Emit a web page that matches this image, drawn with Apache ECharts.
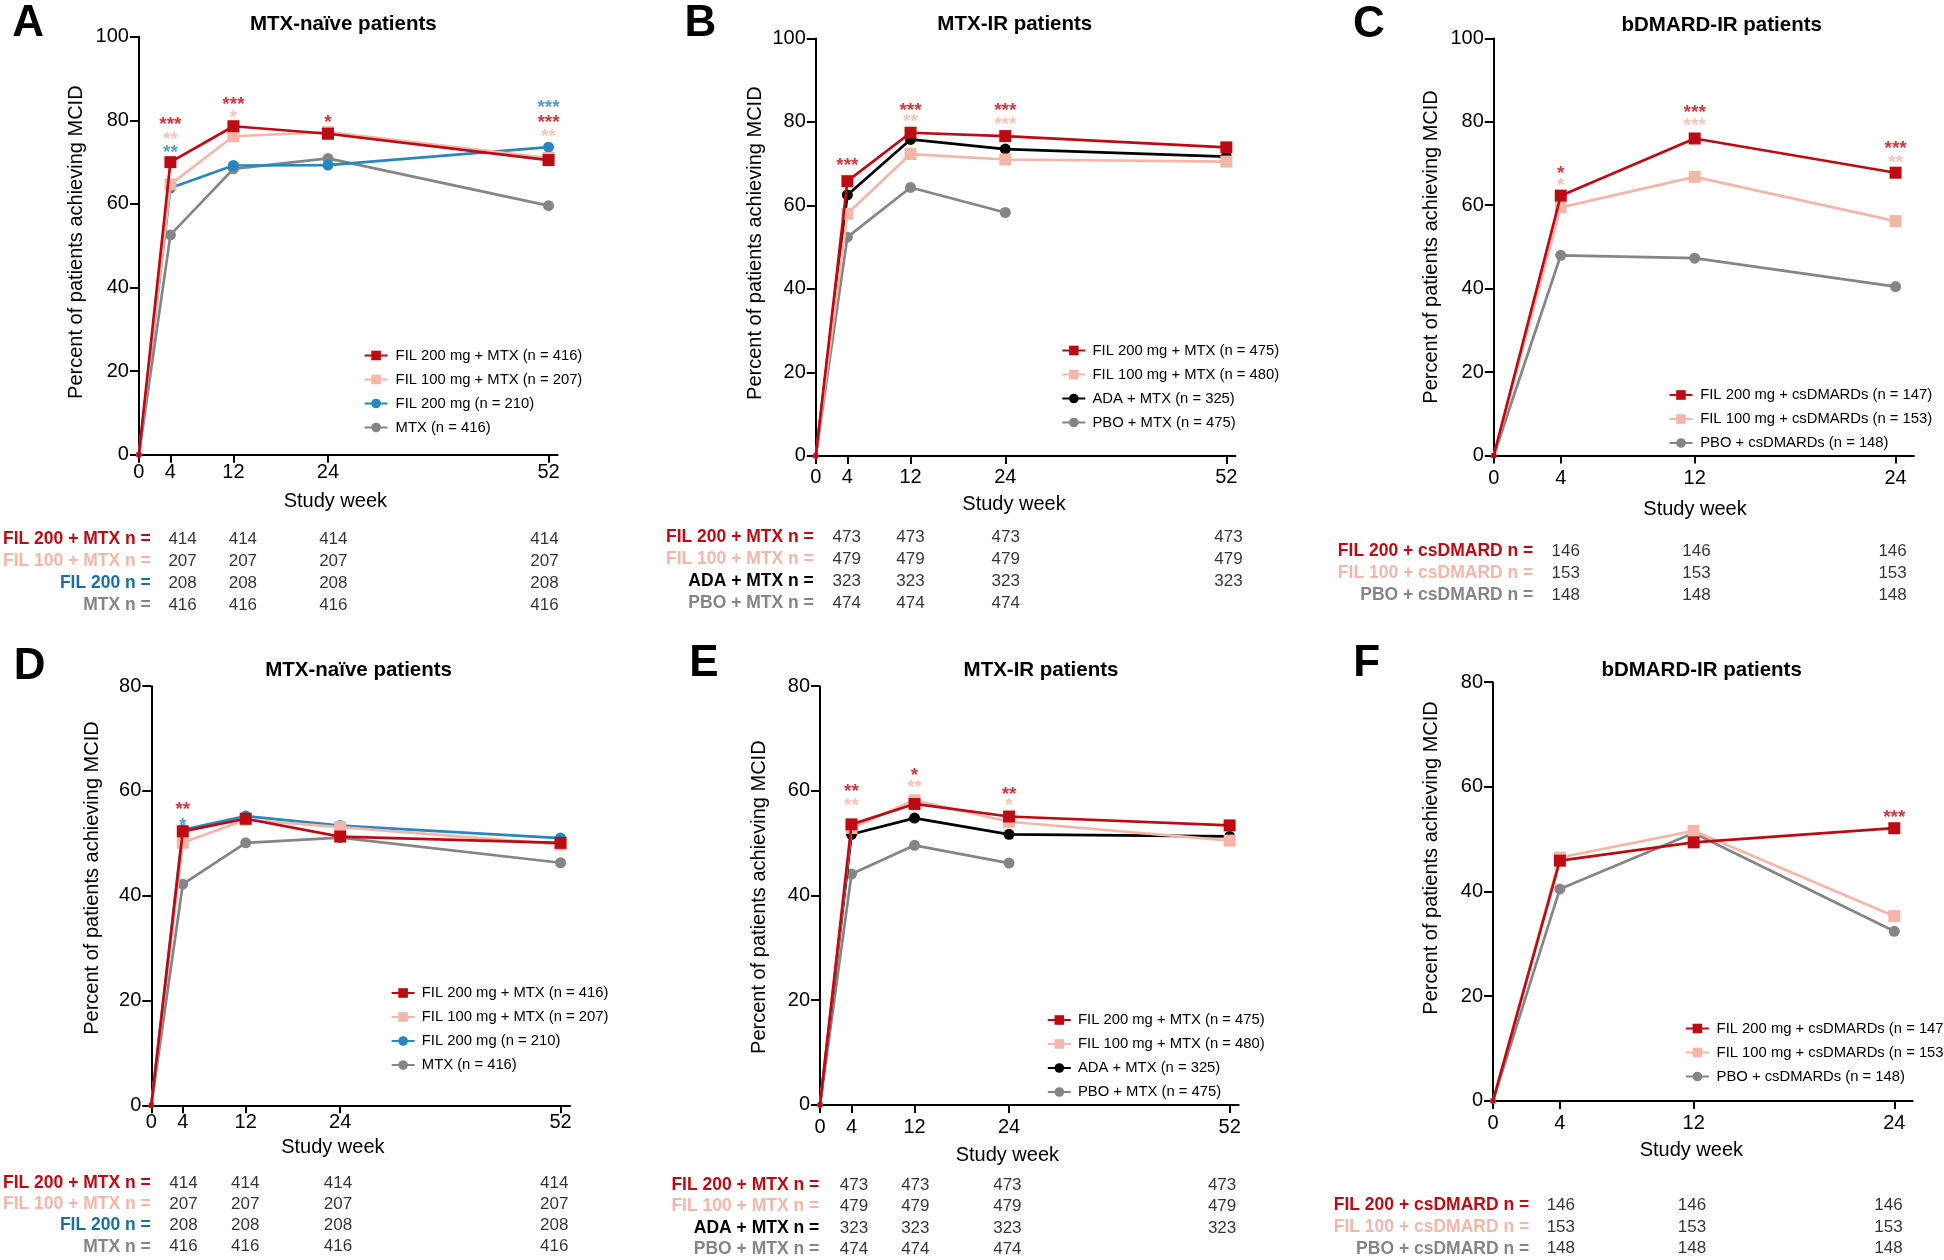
<!DOCTYPE html>
<html><head><meta charset="utf-8">
<script src="https://cdn.jsdelivr.net/npm/echarts@6/dist/echarts.min.js"></script>
<style>html,body{margin:0;padding:0;background:#fff}#c{width:1944px;height:1260px}</style>
</head><body><div id="c"></div>
<script>
// ================= DATA =================
const weeksLong = [0, 4, 12, 24, 52];
const weeksShort = [0, 4, 12, 24];
const nWeeksLong = [4, 12, 24, 52];
const nWeeksShort = [4, 12, 24];
const xTicksLong = [0, 4, 12, 24, 52];
const xTicksShort = [0, 4, 12, 24];

const titles = ['MTX-naïve patients', 'MTX-IR patients', 'bDMARD-IR patients', 'MTX-naïve patients', 'MTX-IR patients', 'bDMARD-IR patients'];
const letters = ['A', 'B', 'C', 'D', 'E', 'F'];
const yAxisTitle = 'Percent of patients achieving MCID';
const xAxisTitle = 'Study week';

// legend names
const namesNaive = ['FIL 200 mg + MTX (n = 416)', 'FIL 100 mg + MTX (n = 207)', 'FIL 200 mg (n = 210)', 'MTX (n = 416)'];
const namesIR = ['FIL 200 mg + MTX (n = 475)', 'FIL 100 mg + MTX (n = 480)', 'ADA + MTX (n = 325)', 'PBO + MTX (n = 475)'];
const namesB = ['FIL 200 mg + csDMARDs (n = 147)', 'FIL 100 mg + csDMARDs (n = 153)', 'PBO + csDMARDs (n = 148)'];

// Panel A (percent achieving MCID)
const A_fil200mtx = [0, 70.0, 78.6, 76.8, 70.5];
const A_fil100mtx = [0, 64.7, 76.2, 77.2, 71.0];
const A_fil200 = [0, 63.8, 69.2, 69.3, 73.6];
const A_mtx = [0, 52.6, 68.4, 70.9, 59.6];
// Panel B
const B_fil200mtx = [0, 65.8, 77.4, 76.6, 73.9];
const B_fil100mtx = [0, 58.0, 72.3, 71.0, 70.5];
const B_ada = [0, 62.5, 75.8, 73.5, 71.7];
const B_pbo = [0, 52.4, 64.3, 58.3];
// Panel C
const C_fil200 = [0, 62.3, 76.0, 67.8];
const C_fil100 = [0, 59.5, 66.8, 56.2];
const C_pbo = [0, 48.0, 47.3, 40.5];
// Panel D
const D_fil200mtx = [0, 52.3, 54.7, 51.3, 50.1];
const D_fil100mtx = [0, 50.1, 54.5, 53.1, 49.8];
const D_fil200 = [0, 52.6, 55.2, 53.4, 51.0];
const D_mtx = [0, 42.2, 50.1, 51.1, 46.3];
// Panel E
const E_fil200mtx = [0, 53.6, 57.5, 55.1, 53.4];
const E_fil100mtx = [0, 52.9, 58.2, 54.1, 50.5];
const E_ada = [0, 51.7, 54.8, 51.7, 51.3];
const E_pbo = [0, 44.1, 49.6, 46.2];
// Panel F
const F_fil200 = [0, 45.9, 49.4, 52.1];
const F_fil100 = [0, 46.5, 51.6, 35.3];
const F_pbo = [0, 40.5, 51.2, 32.4];

// significance annotations: [week, anchor value, text, group]
const sigA = [[4, 79.8, '***', 'red'], [4, 76.2, '**', 'pink'], [4, 73.1, '**', 'blue'],
  [12, 84.7, '***', 'red'], [12, 81.5, '*', 'pink'], [24, 80.4, '*', 'red'],
  [52, 83.9, '***', 'blue'], [52, 80.4, '***', 'red'], [52, 77.1, '**', 'pink']];
const sigB = [[4, 70.4, '***', 'red'], [12, 83.6, '***', 'red'], [12, 81.0, '**', 'pink'],
  [24, 83.6, '***', 'red'], [24, 80.3, '***', 'pink']];
const sigC = [[4, 68.5, '*', 'red'], [4, 65.6, '*', 'pink'], [12, 83.1, '***', 'red'], [12, 80.0, '***', 'pink'],
  [24, 74.4, '***', 'red'], [24, 71.1, '**', 'pink']];
const sigD = [[4, 57.2, '**', 'red'], [4, 54.1, '*', 'blue']];
const sigE = [[4, 60.6, '**', 'red'], [4, 57.9, '**', 'pink'], [12, 63.6, '*', 'red'], [12, 61.3, '**', 'pink'],
  [24, 60.0, '**', 'red'], [24, 58.0, '*', 'pink']];
const sigF = [[24, 54.9, '***', 'red']];

// number-at-risk tables
const nLabelsNaive = ['FIL 200 + MTX n =', 'FIL 100 + MTX n =', 'FIL 200 n =', 'MTX n ='];
const nLabelsIR = ['FIL 200 + MTX n =', 'FIL 100 + MTX n =', 'ADA + MTX n =', 'PBO + MTX n ='];
const nLabelsB = ['FIL 200 + csDMARD n =', 'FIL 100 + csDMARD n =', 'PBO + csDMARD n ='];
const nNaive = [[414, 414, 414, 414], [207, 207, 207, 207], [208, 208, 208, 208], [416, 416, 416, 416]];
const nIR = [[473, 473, 473, 473], [479, 479, 479, 479], [323, 323, 323, 323], [474, 474, 474]];
const nB = [[146, 146, 146], [153, 153, 153], [148, 148, 148]];

// ================= STYLE =================
const COL = { red: '#BE0A12', pink: '#F4B6A8', blue: '#2886C0', blueText: '#1B6FA0', gray: '#858585', black: '#000000' };
const FONT = '"Liberation Sans", Arial, Helvetica, sans-serif';

function lineDefs(names, vals, keys, symbols, weeksArr) {
  return names.map((n, i) => ({ name: n, vals: vals[i], color: COL[keys[i]], symbol: symbols[i], weeks: weeksArr[i] }));
}

const panels = [
  { lines: lineDefs(namesNaive, [A_fil200mtx, A_fil100mtx, A_fil200, A_mtx], ['red', 'pink', 'blue', 'gray'], ['rect', 'rect', 'circle', 'circle'], [weeksLong, weeksLong, weeksLong, weeksLong]),
    ymax: 100, xTicks: xTicksLong, sig: sigA, nLabels: nLabelsNaive, nVals: nNaive, nWeeks: nWeeksLong, rowCol: ['red', 'pink', 'blueText', 'gray'] },
  { lines: lineDefs(namesIR, [B_fil200mtx, B_fil100mtx, B_ada, B_pbo], ['red', 'pink', 'black', 'gray'], ['rect', 'rect', 'circle', 'circle'], [weeksLong, weeksLong, weeksLong, weeksShort]),
    ymax: 100, xTicks: xTicksLong, sig: sigB, nLabels: nLabelsIR, nVals: nIR, nWeeks: nWeeksLong, rowCol: ['red', 'pink', 'black', 'gray'] },
  { lines: lineDefs(namesB, [C_fil200, C_fil100, C_pbo], ['red', 'pink', 'gray'], ['rect', 'rect', 'circle'], [weeksShort, weeksShort, weeksShort]),
    ymax: 100, xTicks: xTicksShort, sig: sigC, nLabels: nLabelsB, nVals: nB, nWeeks: nWeeksShort, rowCol: ['red', 'pink', 'gray'] },
  { lines: lineDefs(namesNaive, [D_fil200mtx, D_fil100mtx, D_fil200, D_mtx], ['red', 'pink', 'blue', 'gray'], ['rect', 'rect', 'circle', 'circle'], [weeksLong, weeksLong, weeksLong, weeksLong]),
    ymax: 80, xTicks: xTicksLong, sig: sigD, nLabels: nLabelsNaive, nVals: nNaive, nWeeks: nWeeksLong, rowCol: ['red', 'pink', 'blueText', 'gray'] },
  { lines: lineDefs(namesIR, [E_fil200mtx, E_fil100mtx, E_ada, E_pbo], ['red', 'pink', 'black', 'gray'], ['rect', 'rect', 'circle', 'circle'], [weeksLong, weeksLong, weeksLong, weeksShort]),
    ymax: 80, xTicks: xTicksLong, sig: sigE, nLabels: nLabelsIR, nVals: nIR, nWeeks: nWeeksLong, rowCol: ['red', 'pink', 'black', 'gray'] },
  { lines: lineDefs(namesB, [F_fil200, F_fil100, F_pbo], ['red', 'pink', 'gray'], ['rect', 'rect', 'circle'], [weeksShort, weeksShort, weeksShort]),
    ymax: 80, xTicks: xTicksShort, sig: sigF, nLabels: nLabelsB, nVals: nB, nWeeks: nWeeksShort, rowCol: ['red', 'pink', 'gray'] }
];

// ================= LAYOUT =================
const layout = [
  { chart: [138.9, 36.8, 418.7, 417.9], xmax: 53.15, table: [150.9, 528.6, 393.5, 87.3], tmax: 52, toff: 1.6,
    legend: [358.6, 343], lpad: 3, title: [343.3, 24.5], letter: [28.2, 24], xName: [36.7, 12.9], yName: [52.2, 3.6], xLab: 8 },
  { chart: [815.8, 38.4, 419.6, 417.5], xmax: 53.15, table: [815, 526.6, 413.4, 87.3], tmax: 52, toff: 1.2,
    legend: [1056.3, 338], lpad: 2.2, title: [1014.8, 24.5], letter: [700.4, 24], xName: [38.3, 11.6], yName: [50.1, 4], xLab: 12 },
  { chart: [1493.8, 38.4, 420.2, 417.1], xmax: 25.1, table: [1500.3, 540, 392.3, 66], tmax: 24, toff: -33,
    legend: [1663.5, 382.5], lpad: 2.7, title: [1721.7, 25], letter: [1369, 24.7], xName: [43.7, 8.9], yName: [52.4, 0], xLab: 12.5 },
  { chart: [151.3, 686.2, 418.7, 419.1], xmax: 53.2, table: [150.1, 1172.6, 404.2, 84.7], tmax: 52, toff: 1.7,
    legend: [385.6, 980.5], lpad: 2.2, title: [358.6, 670.2], letter: [29.6, 667.2], xName: [31.8, 27.8], yName: [49.3, 17.7], xLab: 7.5 },
  { chart: [820, 686.2, 418.7, 418.7], xmax: 53.15, table: [823.3, 1174.4, 398.8, 86.3], tmax: 52, toff: 4.1,
    legend: [1041.8, 1007.5], lpad: 2.2, title: [1041, 670.2], letter: [703.9, 664.2], xName: [40.2, 22], yName: [50.1, -1.6], xLab: 12.5 },
  { chart: [1493, 682.2, 419.7, 418.7], xmax: 25.1, table: [1495.3, 1194.45, 393.2, 65.1], tmax: 24, toff: -33.9,
    legend: [1679.9, 1016], lpad: 2.7, title: [1701.6, 670.2], letter: [1366.7, 664.2], xName: [39.4, 11.5], yName: [51.6, 33.6], xLab: 12.5 }
];

// ================= BUILD =================
const option = { backgroundColor: '#fff', animation: false, grid: [], xAxis: [], yAxis: [], series: [], legend: [], graphic: [] };
const axisLineStyle = { color: '#000', width: 2 };

panels.forEach((p, i) => {
  const L = layout[i];
  const gc = i * 2, gt = i * 2 + 1;
  option.grid.push({ left: L.chart[0], top: L.chart[1], width: L.chart[2], height: L.chart[3] });
  option.grid.push({ left: L.table[0], top: L.table[1], width: L.table[2], height: L.table[3] });

  const xs = L.xName[1], ys = L.yName[1];
  option.xAxis.push({
    type: 'value', gridIndex: gc, min: 0, max: L.xmax,
    name: xAxisTitle, nameLocation: 'middle', nameGap: L.xName[0],
    nameTextStyle: { fontSize: 20, color: '#000', fontFamily: FONT, padding: [0, 2 * xs, 0, 0] },
    axisLine: { show: true, onZero: false, lineStyle: axisLineStyle },
    axisTick: { show: true, length: 8, lineStyle: axisLineStyle, customValues: p.xTicks },
    axisLabel: { fontSize: 20, color: '#000', fontFamily: FONT, margin: L.xLab, customValues: p.xTicks },
    splitLine: { show: false }
  });
  option.yAxis.push({
    type: 'value', gridIndex: gc, min: 0, max: p.ymax, interval: 20,
    name: yAxisTitle, nameLocation: 'middle', nameGap: L.yName[0],
    nameTextStyle: { fontSize: 20, color: '#000', fontFamily: FONT, padding: [0, Math.max(0, -2 * ys), 0, Math.max(0, 2 * ys)] },
    axisLine: { show: true, lineStyle: axisLineStyle },
    axisTick: { show: true, length: 9, lineStyle: axisLineStyle },
    axisLabel: { fontSize: 20, color: '#000', fontFamily: FONT, margin: 10 },
    splitLine: { show: false }
  });
  // table axes
  option.xAxis.push({ type: 'value', gridIndex: gt, min: 0, max: L.tmax, show: false });
  const rowColors = p.rowCol.map(k => COL[k]);
  const labs = p.nLabels;
  option.yAxis.push({
    type: 'category', gridIndex: gt, data: labs, inverse: true, offset: L.toff,
    axisLine: { show: false }, axisTick: { show: false }, splitLine: { show: false },
    axisLabel: { interval: 0, fontSize: 17.5, fontWeight: 'bold', fontFamily: FONT, margin: 0,
      color: (v) => rowColors[Math.max(0, labs.indexOf(v))] }
  });

  // lines (reverse of legend order so the first group is drawn on top)
  const drawOrder = p.lines.slice().reverse();
  drawOrder.forEach((s, k) => {
    option.series.push({
      type: 'line', name: s.name, xAxisIndex: gc, yAxisIndex: gc,
      data: s.weeks.map((w, j) => j === 0 ? { value: [w, s.vals[j]], symbolSize: 5 } : [w, s.vals[j]]),
      symbol: s.symbol, symbolSize: s.symbol === 'rect' ? 12 : 11,
      lineStyle: { color: s.color, width: 2.7 }, itemStyle: { color: s.color },
      z: 2 + k, silent: true
    });
  });
  // significance stars
  option.series.push({
    type: 'scatter', name: 'sig' + i, xAxisIndex: gc, yAxisIndex: gc, symbolSize: 0, silent: true, z: 20,
    data: p.sig.map(s => ({ value: [s[0], s[1]], label: { formatter: s[2], color: COL[s[3]] } })),
    label: { show: true, position: 'inside', fontSize: 19, fontWeight: 'bold', fontFamily: FONT, offset: [0, 4] }
  });
  // n table values
  const tdata = [];
  p.nVals.forEach((row, r) => row.forEach((v, k) => tdata.push([p.nWeeks[k], r, v])));
  option.series.push({
    type: 'scatter', name: 'n' + i, xAxisIndex: gt, yAxisIndex: gt, symbolSize: 1, silent: true,
    itemStyle: { color: 'rgba(0,0,0,0)' }, data: tdata,
    label: { show: true, position: 'inside', formatter: q => String(q.value[2]), color: '#000', fontSize: 17, fontFamily: FONT }
  });

  option.legend.push({
    orient: 'vertical', left: L.legend[0], top: L.legend[1], itemWidth: 23, itemHeight: 12, itemGap: 9,
    selectedMode: false, data: p.lines.map(s => s.name),
    textStyle: { fontSize: 14.8, color: '#000', fontFamily: FONT, padding: [0, 0, 0, L.lpad] }
  });

  option.graphic.push({ type: 'text', x: L.title[0], y: L.title[1], style: { text: titles[i], font: 'bold 20.5px ' + FONT, fill: '#000', textAlign: 'center', textVerticalAlign: 'middle' } });
  option.graphic.push({ type: 'text', x: L.letter[0], y: L.letter[1], style: { text: letters[i], font: 'bold 44px ' + FONT, fill: '#000', textAlign: 'center', textVerticalAlign: 'middle' } });
});

const chart = echarts.init(document.getElementById('c'), null, { renderer: 'canvas' });
chart.setOption(option);
</script></body></html>
